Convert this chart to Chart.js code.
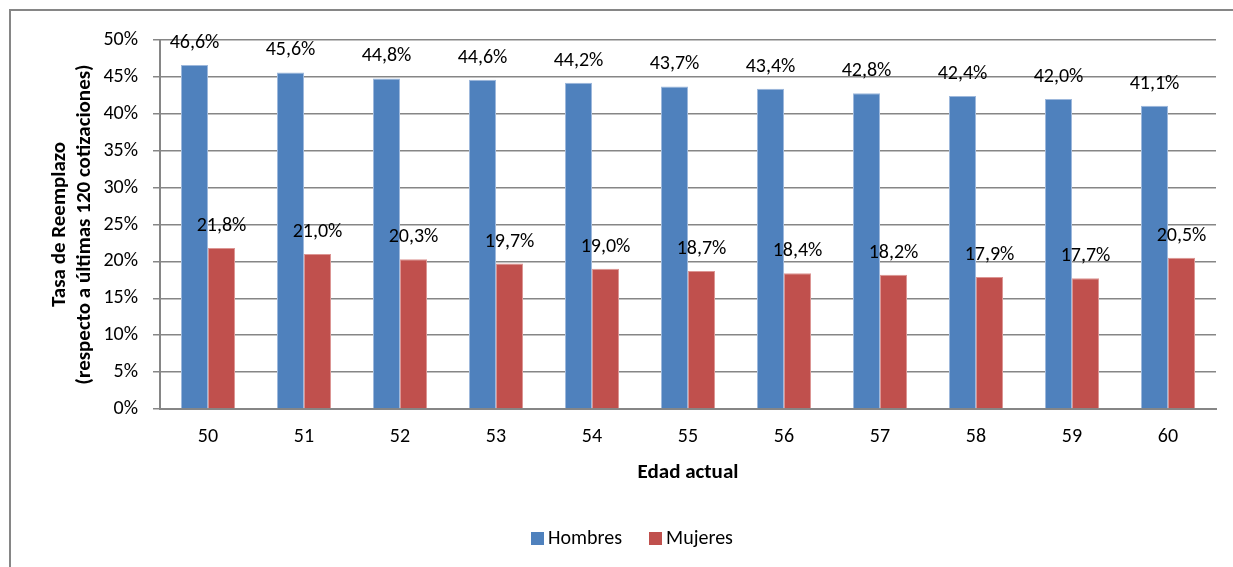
<!DOCTYPE html>
<html><head><meta charset="utf-8">
<script src="https://cdn.jsdelivr.net/npm/chart.js@4"></script>
<style>html,body{margin:0;padding:0;background:#fff}#wrap{width:1233px;height:567px;position:relative}</style>
</head><body><div id="wrap"><canvas id="c" width="1233" height="567"></canvas></div>
<script>
const categories = ['50','51','52','53','54','55','56','57','58','59','60'];
const hombres = [46.6,45.6,44.8,44.6,44.2,43.7,43.4,42.8,42.4,42.0,41.1];
const mujeres = [21.8,21.0,20.3,19.7,19.0,18.7,18.4,18.2,17.9,17.7,20.5];
const seriesNames = ['Hombres','Mujeres'];
const yTitle = ['Tasa de Reemplazo','(respecto a últimas 120 cotizaciones)'];
const xTitle = 'Edad actual';

const FONT = 'Carlito, Lato, "Open Sans", sans-serif';
const FS = 20;
const TFS = 21;
const fmt = v => v.toFixed(1).replace('.', ',') + '%';

const borderPlugin = {
  id: 'outerBorder',
  beforeDraw(chart){
    const ctx = chart.ctx;
    ctx.save();
    ctx.fillStyle = '#fff';
    ctx.fillRect(0,0,chart.width,chart.height);
    ctx.strokeStyle = '#868686';
    ctx.lineWidth = 2;
    ctx.beginPath();
    ctx.moveTo(10, chart.height); ctx.lineTo(10, 10); ctx.lineTo(chart.width, 10);
    ctx.stroke();
    ctx.restore();
  }
};
const labelPlugin = {
  id: 'barLabels',
  afterDatasetsDraw(chart){
    const ctx = chart.ctx;
    ctx.save();
    ctx.font = FS + 'px ' + FONT;
    ctx.fillStyle = '#000';
    ctx.textAlign = 'center';
    ctx.textBaseline = 'alphabetic';
    chart.data.datasets.forEach((ds, i) => {
      chart.getDatasetMeta(i).data.forEach((bar, j) => {
        ctx.fillText(fmt(ds.data[j]), bar.x, bar.y - 17);
      });
    });
    ctx.restore();
  }
};
// legend drawn as canvas text to match the tight box/text spacing of the original
const legendPlugin = {
  id: 'tightLegend',
  afterDraw(chart){
    const ctx = chart.ctx;
    ctx.save();
    ctx.font = FS + 'px ' + FONT;
    const box = 13, gap = 4, sep = 27, cy = 538, cx = 632;
    const items = chart.data.datasets.map(ds => ({text: ds.label, color: ds.backgroundColor, w: ctx.measureText(ds.label).width}));
    let total = items.reduce((a, it) => a + box + gap + it.w, 0) + sep * (items.length - 1);
    let x = cx - total / 2;
    ctx.textBaseline = 'middle';
    ctx.textAlign = 'left';
    items.forEach(it => {
      ctx.fillStyle = it.color;
      ctx.fillRect(Math.round(x), Math.round(cy - box / 2), box, box);
      ctx.fillStyle = '#000';
      ctx.fillText(it.text, x + box + gap, cy + 1);
      x += box + gap + it.w + sep;
    });
    ctx.restore();
  }
};

new Chart(document.getElementById('c'), {
  type: 'bar',
  data: {
    labels: categories,
    datasets: [
      {label: seriesNames[0], data: hombres, backgroundColor: '#4F81BD', borderColor: '#9db8dc', borderWidth: 1},
      {label: seriesNames[1], data: mujeres, backgroundColor: '#C0504D', borderColor: '#dc9593', borderWidth: 1}
    ]
  },
  options: {
    responsive: false,
    animation: false,
    devicePixelRatio: 1,
    layout: {padding: {top: 40, right: 17, left: 47, bottom: 50}},
    datasets: {bar: {categoryPercentage: 0.5625, barPercentage: 1}},
    plugins: {
      legend: {display: false},
      tooltip: {enabled: false}
    },
    scales: {
      x: {
        grid: {display: false, drawTicks: false},
        border: {color: '#868686', width: 2},
        ticks: {font: {family: FONT, size: FS}, color: '#000', padding: 16},
        title: {display: true, text: xTitle, font: {family: FONT, size: TFS, weight: 'bold'}, color: '#000', padding: {top: 4, bottom: 32}},
        afterFit(s){ s.height = 108; }
      },
      y: {
        min: 0, max: 50,
        grid: {color: '#868686', lineWidth: 1.5, tickLength: 7},
        border: {color: '#868686', width: 2},
        ticks: {stepSize: 5, callback: v => v + '%', font: {family: FONT, size: FS}, color: '#000', padding: 15},
        title: {display: true, text: yTitle, font: {family: FONT, size: TFS, weight: 'bold'}, color: '#000', padding: {top: 0, bottom: 4}},
        afterFit(s){ s.width = 113; }
      }
    }
  },
  plugins: [borderPlugin, labelPlugin, legendPlugin]
});
</script></body></html>
